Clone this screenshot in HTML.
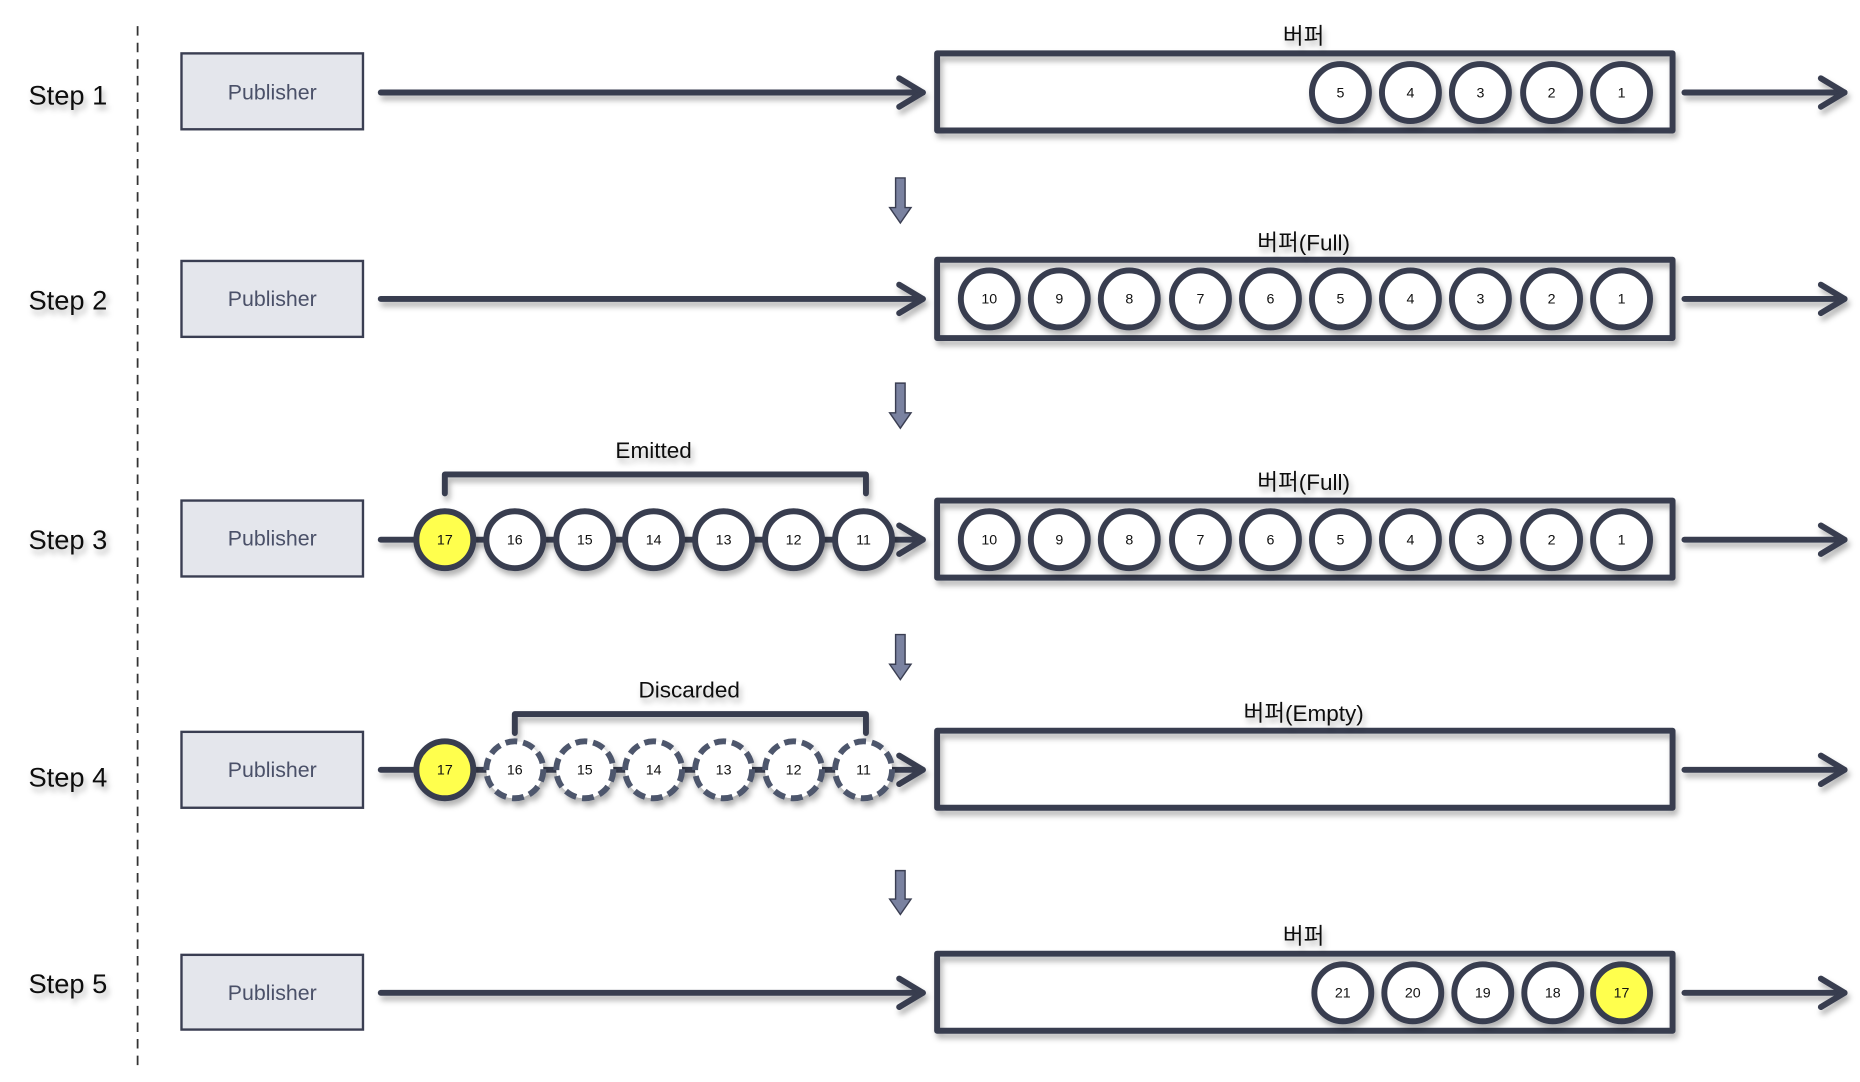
<!DOCTYPE html>
<html><head><meta charset="utf-8"><style>
html,body{margin:0;padding:0;background:#fff;}
svg{display:block;}
text{font-family:"Liberation Sans","Noto Sans CJK KR",sans-serif;}
</style></head><body>
<svg width="1860" height="1082" viewBox="0 0 1568 912.2" preserveAspectRatio="none" xmlns="http://www.w3.org/2000/svg">
<defs>
<filter id="sh" x="-10%" y="-30%" width="130%" height="180%"><feDropShadow dx="2" dy="4" stdDeviation="2.5" flood-color="#000" flood-opacity="0.3"/></filter>
</defs>
<line x1="116" y1="22" x2="116" y2="900" stroke="#333" stroke-width="1.5" stroke-dasharray="8,6"/>
<g font-size="23" fill="#111" filter="url(#sh)">
<text x="24" y="88">Step 1</text>
<text x="24" y="261">Step 2</text>
<text x="24" y="463">Step 3</text>
<text x="24" y="663">Step 4</text>
<text x="24" y="837">Step 5</text>
</g>
<g fill="#e4e6ec" stroke="#3a3e52" stroke-width="2">
<rect x="153" y="45" width="153" height="64"/>
<rect x="153" y="220" width="153" height="64"/>
<rect x="153" y="422" width="153" height="64"/>
<rect x="153" y="617" width="153" height="64"/>
<rect x="153" y="805" width="153" height="63"/>
</g>
<g font-size="18" fill="#4a5068" text-anchor="middle">
<text x="229.5" y="84">Publisher</text>
<text x="229.5" y="258">Publisher</text>
<text x="229.5" y="460">Publisher</text>
<text x="229.5" y="655">Publisher</text>
<text x="229.5" y="843">Publisher</text>
</g>
<g stroke="#373c4f" stroke-width="5" fill="none" stroke-linecap="round" stroke-linejoin="round" filter="url(#sh)">
<line x1="321" y1="78" x2="778" y2="78"/><path d="M758 66 L778 78 L758 90"/>
<line x1="321" y1="252" x2="778" y2="252"/><path d="M758 240 L778 252 L758 264"/>
<line x1="321" y1="455" x2="778" y2="455"/><path d="M758 443 L778 455 L758 467"/>
<line x1="321" y1="649" x2="778" y2="649"/><path d="M758 637 L778 649 L758 661"/>
<line x1="321" y1="837" x2="778" y2="837"/><path d="M758 825 L778 837 L758 849"/>
<line x1="1420" y1="78" x2="1555" y2="78"/><path d="M1535 66 L1555 78 L1535 90"/>
<line x1="1420" y1="252" x2="1555" y2="252"/><path d="M1535 240 L1555 252 L1535 264"/>
<line x1="1420" y1="455" x2="1555" y2="455"/><path d="M1535 443 L1555 455 L1535 467"/>
<line x1="1420" y1="649" x2="1555" y2="649"/><path d="M1535 637 L1555 649 L1535 661"/>
<line x1="1420" y1="837" x2="1555" y2="837"/><path d="M1535 825 L1555 837 L1535 849"/>
<rect x="790" y="45" width="620" height="65"/>
<rect x="790" y="219" width="620" height="66"/>
<rect x="790" y="422" width="620" height="65"/>
<rect x="790" y="616" width="620" height="65"/>
<rect x="790" y="804" width="620" height="65"/>
<path d="M375 416 V400 H730 V416"/>
<path d="M434 618 V602 H730 V618"/>
</g>
<g fill="#7a82a0" stroke="#3a3e52" stroke-width="1.2">
<path d="M755 150 H763 V175 H768 L759 188 L750 175 H755 Z"/>
<path d="M755 323 H763 V348 H768 L759 361 L750 348 H755 Z"/>
<path d="M755 535 H763 V560 H768 L759 573 L750 560 H755 Z"/>
<path d="M755 734 H763 V758 H768 L759 771 L750 758 H755 Z"/>
</g>
<g font-size="19" fill="#111" text-anchor="middle" filter="url(#sh)">
<text x="1099" y="37">버퍼</text>
<text x="1099" y="211">버퍼(Full)</text>
<text x="1099" y="413">버퍼(Full)</text>
<text x="1099" y="608">버퍼(Empty)</text>
<text x="1099" y="796">버퍼</text>
<text x="551" y="386">Emitted</text>
<text x="581" y="588">Discarded</text>
</g>
<g stroke="#373c4f" stroke-width="5" fill="#fff" filter="url(#sh)">
<circle cx="1130" cy="78" r="24"/><circle cx="1189" cy="78" r="24"/><circle cx="1248" cy="78" r="24"/><circle cx="1308" cy="78" r="24"/><circle cx="1367" cy="78" r="24"/>
<circle cx="834" cy="252" r="24"/><circle cx="893" cy="252" r="24"/><circle cx="952" cy="252" r="24"/><circle cx="1012" cy="252" r="24"/><circle cx="1071" cy="252" r="24"/><circle cx="1130" cy="252" r="24"/><circle cx="1189" cy="252" r="24"/><circle cx="1248" cy="252" r="24"/><circle cx="1308" cy="252" r="24"/><circle cx="1367" cy="252" r="24"/>
<circle cx="834" cy="455" r="24"/><circle cx="893" cy="455" r="24"/><circle cx="952" cy="455" r="24"/><circle cx="1012" cy="455" r="24"/><circle cx="1071" cy="455" r="24"/><circle cx="1130" cy="455" r="24"/><circle cx="1189" cy="455" r="24"/><circle cx="1248" cy="455" r="24"/><circle cx="1308" cy="455" r="24"/><circle cx="1367" cy="455" r="24"/>
<circle cx="375" cy="455" r="24" fill="#ffff4d"/><circle cx="434" cy="455" r="24"/><circle cx="493" cy="455" r="24"/><circle cx="551" cy="455" r="24"/><circle cx="610" cy="455" r="24"/><circle cx="669" cy="455" r="24"/><circle cx="728" cy="455" r="24"/>
<circle cx="375" cy="649" r="24" fill="#ffff4d"/>
<circle cx="1132" cy="837" r="24"/><circle cx="1191" cy="837" r="24"/><circle cx="1250" cy="837" r="24"/><circle cx="1309" cy="837" r="24"/><circle cx="1367" cy="837" r="24" fill="#ffff4d"/>
</g>
<g stroke="#4e566c" stroke-width="5" fill="#fff" stroke-dasharray="10,5" filter="url(#sh)">
<circle cx="434" cy="649" r="24"/><circle cx="493" cy="649" r="24"/><circle cx="551" cy="649" r="24"/><circle cx="610" cy="649" r="24"/><circle cx="669" cy="649" r="24"/><circle cx="728" cy="649" r="24"/>
</g>
<g font-size="12" fill="#111" text-anchor="middle">
<text x="1130" y="82">5</text><text x="1189" y="82">4</text><text x="1248" y="82">3</text><text x="1308" y="82">2</text><text x="1367" y="82">1</text>
<text x="834" y="256">10</text><text x="893" y="256">9</text><text x="952" y="256">8</text><text x="1012" y="256">7</text><text x="1071" y="256">6</text><text x="1130" y="256">5</text><text x="1189" y="256">4</text><text x="1248" y="256">3</text><text x="1308" y="256">2</text><text x="1367" y="256">1</text>
<text x="834" y="459">10</text><text x="893" y="459">9</text><text x="952" y="459">8</text><text x="1012" y="459">7</text><text x="1071" y="459">6</text><text x="1130" y="459">5</text><text x="1189" y="459">4</text><text x="1248" y="459">3</text><text x="1308" y="459">2</text><text x="1367" y="459">1</text>
<text x="375" y="459">17</text><text x="434" y="459">16</text><text x="493" y="459">15</text><text x="551" y="459">14</text><text x="610" y="459">13</text><text x="669" y="459">12</text><text x="728" y="459">11</text>
<text x="375" y="653">17</text><text x="434" y="653">16</text><text x="493" y="653">15</text><text x="551" y="653">14</text><text x="610" y="653">13</text><text x="669" y="653">12</text><text x="728" y="653">11</text>
<text x="1132" y="841">21</text><text x="1191" y="841">20</text><text x="1250" y="841">19</text><text x="1309" y="841">18</text><text x="1367" y="841">17</text>
</g>
</svg>
</body></html>
